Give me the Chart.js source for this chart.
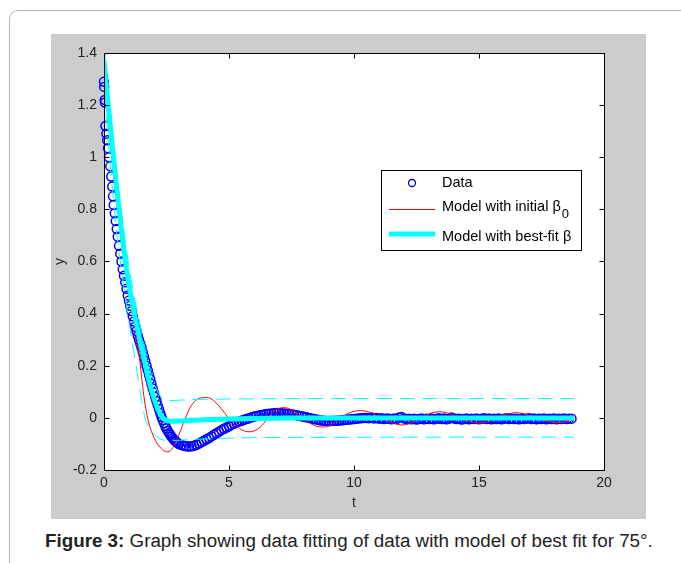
<!DOCTYPE html>
<html>
<head>
<meta charset="utf-8">
<script src="https://cdn.jsdelivr.net/npm/chart.js@4.4.0/dist/chart.umd.min.js"></script>
<style>
body { margin: 0; background: #fff; width: 681px; height: 563px; overflow: hidden; position: relative; font-family: "Liberation Sans", Arial, sans-serif; }
#frame { position: absolute; left: 9px; top: 10px; width: 760px; height: 600px; border-left: 1px solid #b4b4b4; border-top: 1px solid #b4b4b4; border-top-left-radius: 9px; }
#fig { position: absolute; left: 51px; top: 34px; width: 595px; height: 485px; background: #ccc; }
#caption { position: absolute; left: 45px; top: 531px; font-size: 18.8px; line-height: 20px; color: #222; white-space: nowrap; }
</style>
</head>
<body>
<div id="frame"></div>
<div id="fig"><canvas id="MyChart" width="595" height="485"></canvas></div>
<div id="caption"><b>Figure 3:</b> Graph showing data fitting of data with model of best fit for 75°.</div>
<script>
// axis ticks
const xTicks = [0, 5, 10, 15, 20];
const yTicks = [-0.2, 0, 0.2, 0.4, 0.6, 0.8, 1, 1.2, 1.4];
const legendLabels = ['Data', 'Model with initial β', 'Model with best-fit β'];

// measured data (blue circles)
const dataT = [0, 0.01, 0.03, 0.04, 0.06, 0.1, 0.13, 0.16, 0.2, 0.25, 0.29, 0.33, 0.36, 0.39, 0.43, 0.47, 0.51, 0.55,
  0.6, 0.65, 0.7, 0.75, 0.8, 0.85, 0.9, 0.95, 1.0, 1.05, 1.1, 1.15, 1.2, 1.25, 1.3, 1.35, 1.4, 1.45, 1.5, 1.55,
  1.6, 1.65, 1.7, 1.75, 1.8, 1.85, 1.9, 1.95, 2.0, 2.05, 2.1, 2.15, 2.2, 2.25, 2.3, 2.35, 2.4, 2.45, 2.5, 2.55,
  2.6, 2.65, 2.7, 2.75, 2.8, 2.85, 2.9, 2.95, 3.0,
  3.1, 3.2, 3.3, 3.4, 3.5, 3.6, 3.7, 3.8, 3.9, 4.0, 4.1, 4.2, 4.3, 4.4, 4.5, 4.6, 4.7, 4.8, 4.9, 5.0,
  5.1, 5.2, 5.3, 5.4, 5.5, 5.6, 5.7, 5.8, 5.9, 6.0, 6.1, 6.2, 6.3, 6.4, 6.5, 6.6, 6.7, 6.8, 6.9, 7.0,
  7.1, 7.2, 7.3, 7.4, 7.5, 7.6, 7.7, 7.8, 7.9, 8.0, 8.1, 8.2, 8.3, 8.4, 8.5, 8.6, 8.7, 8.8, 8.9, 9.0,
  9.1, 9.2, 9.3, 9.4, 9.5, 9.6, 9.7, 9.8, 9.9, 10.0, 10.1, 10.2, 10.3, 10.4, 10.5, 10.6, 10.7, 10.8, 10.9, 11.0,
  11.1, 11.2, 11.3, 11.4, 11.5, 11.6, 11.7, 11.8, 11.9, 12.0, 12.1, 12.2, 12.3, 12.4, 12.5, 12.6, 12.7, 12.8, 12.9, 13.0,
  13.1, 13.2, 13.3, 13.4, 13.5, 13.6, 13.7, 13.8, 13.9, 14.0, 14.1, 14.2, 14.3, 14.4, 14.5, 14.6, 14.7, 14.8, 14.9, 15.0,
  15.1, 15.2, 15.3, 15.4, 15.5, 15.6, 15.7, 15.8, 15.9, 16.0, 16.1, 16.2, 16.3, 16.4, 16.5, 16.6, 16.7, 16.8, 16.9, 17.0,
  17.1, 17.2, 17.3, 17.4, 17.5, 17.6, 17.7, 17.8, 17.9, 18.0, 18.1, 18.2, 18.3, 18.4, 18.5, 18.6, 18.7];
const dataY = [1.29, 1.27, 1.22, 1.21, 1.12, 1.09, 1.065, 1.035, 1.0, 0.965, 0.926, 0.888, 0.85, 0.817, 0.785, 0.755, 0.725, 0.695,
  0.66, 0.63, 0.6, 0.57, 0.545, 0.52, 0.495, 0.47, 0.45, 0.43, 0.41, 0.39, 0.37, 0.35, 0.333, 0.316, 0.3, 0.285, 0.27, 0.252,
  0.235, 0.218, 0.2, 0.183, 0.165, 0.148, 0.13, 0.113, 0.096, 0.08, 0.064, 0.048, 0.033, 0.018, 0.004, -0.008, -0.02, -0.031, -0.041, -0.05,
  -0.058, -0.065, -0.072, -0.078, -0.084, -0.089, -0.093, -0.097, -0.1,
  -0.104, -0.107, -0.109, -0.11, -0.109, -0.107, -0.103, -0.098, -0.093, -0.088, -0.082, -0.077, -0.071, -0.065, -0.059, -0.053, -0.047, -0.042, -0.037, -0.032,
  -0.027, -0.023, -0.018, -0.014, -0.011, -0.007, -0.004, -0.001, 0.002, 0.005, 0.007, 0.009, 0.011, 0.013, 0.015, 0.016, 0.017, 0.018, 0.019, 0.019,
  0.018, 0.017, 0.016, 0.015, 0.014, 0.012, 0.01, 0.008, 0.006, 0.004, 0.002, 0.0, -0.002, -0.004, -0.006, -0.008, -0.01, -0.011, -0.012, -0.012,
  -0.012, -0.011, -0.011, -0.01, -0.009, -0.008, -0.007, -0.006, -0.005, -0.004, -0.003, -0.002, -0.001, 0.0, 0.0, -0.001, 0.001, -0.002, 0.0, -0.003,
  -0.001, -0.004, -0.002, -0.003, -0.005, -0.002, -0.004, 0.001, 0.003, -0.002, -0.004, -0.003, -0.005, -0.003, -0.006, -0.004, -0.002, -0.005, -0.003, -0.004,
  -0.002, -0.005, -0.003, -0.001, -0.004, -0.002, -0.005, -0.003, 0.001, -0.002, -0.004, -0.003, -0.006, -0.004, -0.002, -0.005, -0.003, -0.004, -0.002, -0.005,
  -0.003, -0.001, -0.004, -0.002, -0.005, -0.003, -0.004, -0.002, -0.005, -0.003, -0.001, -0.004, -0.002, -0.004, -0.003, -0.005, -0.002, -0.004, -0.003, -0.001,
  -0.004, -0.002, -0.005, -0.003, -0.004, -0.002, -0.005, -0.003, -0.004, -0.002, -0.005, -0.003, -0.004, -0.002, -0.004, -0.003, -0.003];

// model with initial beta0 (red)
const initT = [0, 0.25, 0.5, 0.75, 1.0, 1.25, 1.4, 1.5, 1.6, 1.7, 1.8, 1.9, 2.0, 2.1, 2.2, 2.3, 2.4, 2.5, 2.6, 2.7, 2.8, 2.9, 3.0,
  3.25, 3.5, 3.75, 4.0, 4.25, 4.5, 4.75, 5.0, 5.25, 5.5, 5.75, 6.0, 6.25, 6.5, 6.75, 7.0, 7.25, 7.5, 7.75, 8.0,
  8.25, 8.5, 8.75, 9.0, 9.25, 9.5, 9.75, 10.0, 10.25, 10.5, 10.75, 11.0, 11.25, 11.5, 11.75, 12.0, 12.25, 12.5, 12.75, 13.0,
  13.25, 13.5, 13.75, 14.0, 14.25, 14.5, 14.75, 15.0, 15.25, 15.5, 15.75, 16.0, 16.25, 16.5, 16.75, 17.0, 17.25, 17.5, 17.75, 18.0,
  18.25, 18.5, 18.75];
const initY = [1.3, 1.06, 0.84, 0.65, 0.48, 0.34, 0.245, 0.16, 0.08, 0.02, -0.022, -0.052, -0.076, -0.094, -0.108, -0.118, -0.126, -0.13, -0.129, -0.121, -0.106, -0.087, -0.064,
  -0.003, 0.048, 0.072, 0.078, 0.075, 0.056, 0.028, -0.003, -0.028, -0.045, -0.053, -0.05, -0.035, -0.008, 0.02, 0.036, 0.039, 0.031, 0.015, -0.004,
  -0.021, -0.032, -0.035, -0.031, -0.017, 0.002, 0.016, 0.025, 0.028, 0.025, 0.017, 0.005, -0.007, -0.018, -0.025, -0.027, -0.021, -0.011, 0.003, 0.015,
  0.022, 0.023, 0.018, 0.01, 0.0, -0.01, -0.017, -0.02, -0.016, -0.008, 0.002, 0.011, 0.017, 0.02, 0.017, 0.01, 0.001, -0.008, -0.014, -0.018,
  -0.018, -0.014, -0.008];

// model with best-fit beta (cyan, thick)
const fitT = [0, 0.1, 0.2, 0.3, 0.4, 0.5, 0.6, 0.7, 0.8, 0.9, 1.0, 1.1, 1.2, 1.3, 1.4, 1.5, 1.6, 1.7, 1.8, 1.9, 2.0,
  2.1, 2.2, 2.3, 2.4, 2.5, 2.6, 2.8, 3.0, 3.5, 4.0, 5.0, 6.0, 7.0, 8.0, 10.0, 12.0, 14.0, 16.0, 18.0, 18.8];
const fitY = [1.37, 1.27, 1.17, 1.075, 0.98, 0.89, 0.805, 0.72, 0.64, 0.57, 0.51, 0.455, 0.405, 0.36, 0.315, 0.27, 0.226, 0.183, 0.143, 0.107, 0.075,
  0.047, 0.024, 0.007, -0.004, -0.009, -0.012, -0.013, -0.012, -0.009, -0.007, -0.004, -0.002, -0.001, 0, 0, 0, 0, 0, 0, 0];

// prediction bounds (cyan dashed)
const hiT = [0, 0.5, 1.0, 1.5, 1.8, 2.0, 2.2, 2.44, 2.8, 3.5, 4.5, 6.0, 8.0, 18.8];
const hiY = [1.43, 0.95, 0.58, 0.33, 0.2, 0.135, 0.092, 0.066, 0.067, 0.07, 0.072, 0.073, 0.074, 0.074];
const loT = [0, 0.5, 1.0, 1.3, 1.64, 1.8, 2.0, 2.2, 2.36, 2.7, 3.5, 5.0, 7.0, 18.8];
const loY = [1.25, 0.72, 0.37, 0.19, 0.0, -0.035, -0.062, -0.078, -0.085, -0.087, -0.083, -0.078, -0.075, -0.074];

const FONT = '"Liberation Sans", Arial, sans-serif';
const TXT = '#222';

function pts(ts, ys) {
  return ts.map((t, i) => ({ x: t, y: ys[i] }));
}

const axesBox = {
  id: 'axesBox',
  beforeDraw(chart) {
    const { ctx, chartArea: a } = chart;
    ctx.save();
    ctx.fillStyle = '#fff';
    ctx.fillRect(a.left, a.top, a.right - a.left, a.bottom - a.top);
    ctx.restore();
  },
  afterDatasetsDraw(chart) {
    const { ctx, chartArea: a, scales } = chart;
    const L = Math.round(a.left) + 0.5, R = Math.round(a.right) + 0.5;
    const T = Math.round(a.top) + 0.5, B = Math.round(a.bottom) + 0.5;
    ctx.save();
    ctx.setLineDash([]);
    ctx.strokeStyle = '#000';
    ctx.lineWidth = 1;
    ctx.strokeRect(L, T, R - L, B - T);
    ctx.beginPath();
    xTicks.forEach(v => {
      const px = Math.round(scales.x.getPixelForValue(v)) + 0.5;
      ctx.moveTo(px, B); ctx.lineTo(px, B - 5);
      ctx.moveTo(px, T); ctx.lineTo(px, T + 5);
    });
    yTicks.forEach(v => {
      const py = Math.round(scales.y.getPixelForValue(v)) + 0.5;
      ctx.moveTo(L, py); ctx.lineTo(L + 5, py);
      ctx.moveTo(R, py); ctx.lineTo(R - 5, py);
    });
    ctx.stroke();

    // legend box
    const lx = 330, ly = 136, lw = 200, lh = 80;
    ctx.fillStyle = '#fff';
    ctx.fillRect(lx, ly, lw, lh);
    ctx.strokeStyle = '#000';
    ctx.strokeRect(lx + 0.5, ly + 0.5, lw, lh);

    ctx.strokeStyle = '#0000ff';
    ctx.lineWidth = 1.3;
    ctx.beginPath();
    ctx.arc(361, 149, 3.5, 0, Math.PI * 2);
    ctx.stroke();

    ctx.strokeStyle = '#ff0000';
    ctx.lineWidth = 1;
    ctx.beginPath();
    ctx.moveTo(338, 175.5); ctx.lineTo(384, 175.5);
    ctx.stroke();

    ctx.strokeStyle = '#00ffff';
    ctx.lineWidth = 5;
    ctx.beginPath();
    ctx.moveTo(338, 200); ctx.lineTo(384, 200);
    ctx.stroke();

    ctx.fillStyle = '#000';
    ctx.font = '14.5px ' + FONT;
    ctx.textBaseline = 'middle';
    ctx.textAlign = 'left';
    ctx.fillText(legendLabels[0], 391, 149);
    ctx.fillText(legendLabels[1], 391, 173);
    const w = ctx.measureText(legendLabels[1]).width;
    ctx.font = '13px ' + FONT;
    ctx.fillText('0', 391 + w + 1, 180);
    ctx.font = '14.5px ' + FONT;
    ctx.fillText(legendLabels[2], 391, 203);
    ctx.restore();
  }
};

const ctx = document.getElementById('MyChart').getContext('2d');
const myChart = new Chart(ctx, {
  type: 'scatter',
  data: {
    datasets: [
      {
        label: 'Model with best-fit β',
        data: pts(fitT, fitY),
        showLine: true,
        borderColor: '#00ffff',
        borderWidth: 5,
        pointRadius: 0,
        cubicInterpolationMode: 'monotone',
        order: 0
      },
      {
        label: 'upper bound',
        data: pts(hiT, hiY),
        showLine: true,
        borderColor: '#00ffff',
        borderWidth: 1,
        borderDash: [15, 8],
        pointRadius: 0,
        cubicInterpolationMode: 'monotone',
        order: 1
      },
      {
        label: 'lower bound',
        data: pts(loT, loY),
        showLine: true,
        borderColor: '#00ffff',
        borderWidth: 1,
        borderDash: [15, 8],
        pointRadius: 0,
        cubicInterpolationMode: 'monotone',
        order: 1
      },
      {
        label: 'Model with initial β0',
        data: pts(initT, initY),
        showLine: true,
        borderColor: '#ff0000',
        borderWidth: 1,
        pointRadius: 0,
        tension: 0.4,
        order: 2
      },
      {
        label: 'Data',
        data: pts(dataT, dataY),
        showLine: false,
        pointStyle: 'circle',
        pointRadius: 4.5,
        borderWidth: 1.5,
        borderColor: '#0000ff',
        backgroundColor: 'rgba(0,0,0,0)',
        clip: false,
        order: 3
      }
    ]
  },
  options: {
    responsive: false,
    animation: false,
    devicePixelRatio: 1,
    layout: { padding: { left: 0, right: 42, top: 19, bottom: 0 } },
    plugins: { legend: { display: false }, tooltip: { enabled: false } },
    scales: {
      x: {
        type: 'linear',
        min: 0,
        max: 20,
        grid: { display: false, drawTicks: false },
        border: { display: false },
        afterBuildTicks: s => { s.ticks = xTicks.map(v => ({ value: v })); },
        afterFit: s => { s.height = 49; },
        ticks: { color: TXT, font: { family: FONT, size: 14 }, padding: 5, maxRotation: 0 },
        title: { display: true, text: 't', color: TXT, font: { family: FONT, size: 14 }, padding: { top: 0, bottom: 7 } }
      },
      y: {
        type: 'linear',
        min: -0.2,
        max: 1.4,
        grid: { display: false, drawTicks: false },
        border: { display: false },
        afterBuildTicks: s => { s.ticks = yTicks.map(v => ({ value: v })); },
        afterFit: s => { s.width = 53; },
        ticks: { color: TXT, font: { family: FONT, size: 14 }, padding: 7, callback: v => String(Math.round(v * 10) / 10) },
        title: { display: true, text: 'y', color: TXT, font: { family: FONT, size: 14 }, padding: { top: 1, bottom: 0 } }
      }
    }
  },
  plugins: [axesBox]
});
</script>
</body>
</html>
